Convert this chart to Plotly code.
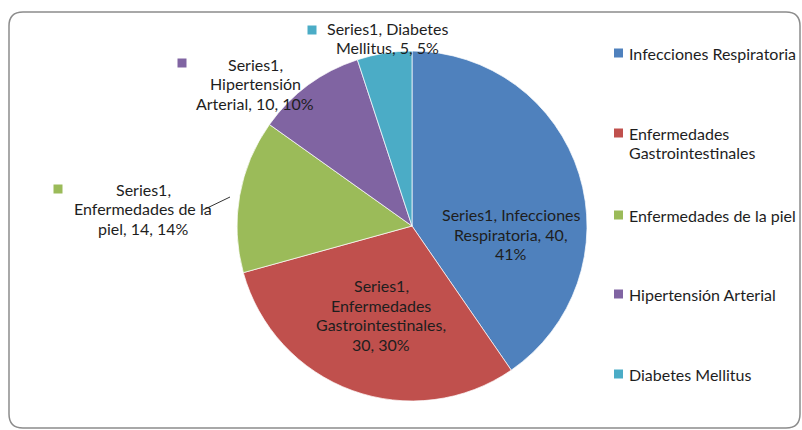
import textwrap
import plotly.graph_objects as go

# ---------------- data ----------------
series_name = "Series1"
categories = ["Infecciones Respiratoria", "Enfermedades Gastrointestinales",
              "Enfermedades de la piel", "Hipertensión Arterial", "Diabetes Mellitus"]
values = [40, 30, 14, 10, 5]
pct_labels = ["41%", "30%", "14%", "10%", "5%"]
legend_lines = [["Infecciones Respiratoria"], ["Enfermedades", "Gastrointestinales"],
                ["Enfermedades de la piel"], ["Hipertensión Arterial"], ["Diabetes Mellitus"]]

# ---------------- style ----------------
OFF = 0
W, H = 802, 430
colors = ["#4F81BD", "#C0504D", "#9BBB59", "#8064A2", "#4BACC6"]
FONT = "Lato, 'Open Sans', sans-serif"
FS = 16
LH = 19.5
TXT = "#1e1e1e"
wrap_widths = [20, 19, 18, 17, 17]
# label block centres (screen px) and legend key beside the label
label_pos = [(511, 234), (381, 315), (143, 209), (255, 84), (387, 38)]
label_key = [None, None, (58, 189), (182, 63), (312, 30)]
legend_rows = [53, 133, 215, 294, 374]


def px(x, y):
    """screen pixel -> paper fraction"""
    return (x - OFF) / W, 1 - (y - OFF) / H


fig = go.Figure()
cx, cy, r = 412, 226, 175
dx0, dy1 = px(cx - r, cy - r)
dx1, dy0 = px(cx + r, cy + r)
fig.add_trace(go.Pie(
    labels=categories, values=values, sort=False, direction="clockwise", rotation=0,
    marker=dict(colors=colors, line=dict(color="rgba(255,255,255,0.7)", width=1)),
    textinfo="none", hoverinfo="label+value+percent", showlegend=False,
    domain=dict(x=[dx0, dx1], y=[dy0, dy1]),
))

annotations = []
shapes = []

# frame (rounded rectangle)
x0, y0, x1, y1, rr = 9, 12, 800, 428, 14
pts = lambda x, y: "%.5f,%.5f" % px(x, y)
path = ("M %s L %s Q %s %s L %s Q %s %s L %s Q %s %s L %s Q %s %s Z" % (
    pts(x0 + rr, y0), pts(x1 - rr, y0), pts(x1, y0), pts(x1, y0 + rr),
    pts(x1, y1 - rr), pts(x1, y1), pts(x1 - rr, y1),
    pts(x0 + rr, y1), pts(x0, y1), pts(x0, y1 - rr),
    pts(x0, y0 + rr), pts(x0, y0), pts(x0 + rr, y0)))
shapes.append(dict(type="path", xref="paper", yref="paper", path=path,
                   line=dict(color="#8c8c8c", width=1.5), layer="below"))


def add_text(x, y, s, anchor):
    ax, ay = px(x, y)
    annotations.append(dict(x=ax, y=ay, xref="paper", yref="paper", text=s,
                            showarrow=False, xanchor=anchor, yanchor="middle",
                            font=dict(family=FONT, size=FS, color=TXT)))


def add_key(x, y, color):
    a, b = px(x - 4.5, y - 4.5)
    c, d = px(x + 4.5, y + 4.5)
    shapes.append(dict(type="rect", xref="paper", yref="paper", x0=a, y0=d, x1=c, y1=b,
                       fillcolor=color, line=dict(width=0)))


# data labels
for i, (cat, v, p) in enumerate(zip(categories, values, pct_labels)):
    lines = textwrap.wrap(f"{series_name}, {cat}, {v}, {p}", wrap_widths[i])
    lx, ly = label_pos[i]
    n = len(lines)
    for k, s in enumerate(lines):
        add_text(lx, ly + (k - (n - 1) / 2) * LH, s, "center")
    if label_key[i]:
        add_key(*label_key[i], colors[i])

# leader line for the green label
la, lb = px(203, 210)
lc, ld = px(230, 197)
shapes.append(dict(type="line", xref="paper", yref="paper", x0=la, y0=lb, x1=lc, y1=ld,
                   line=dict(color="#333333", width=1)))

# legend
for i, lines in enumerate(legend_lines):
    ry = legend_rows[i]
    add_key(618.5, ry, colors[i])
    for k, s in enumerate(lines):
        add_text(627, ry + k * LH, s, "left")

fig.update_layout(
    width=W, height=H, margin=dict(l=0, r=0, t=0, b=0),
    paper_bgcolor="white", plot_bgcolor="white",
    annotations=annotations, shapes=shapes, showlegend=False,
)
fig.write_html("out.html", config={"displayModeBar": False},
               post_script="document.body.style.margin='0';document.body.style.overflow='hidden';")
